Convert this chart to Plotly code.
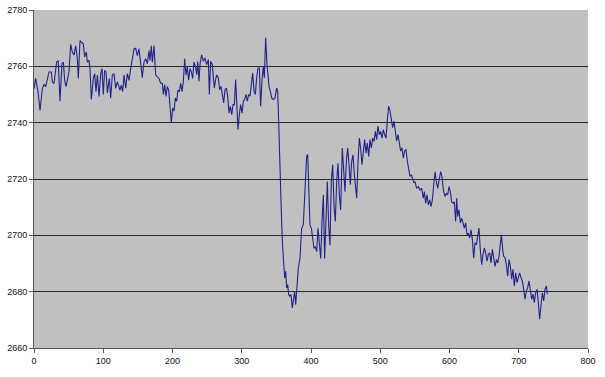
import plotly.graph_objects as go

# Values (x, y pairs)
x_vals = [
    0, 2.4, 5.8, 8.7, 12, 14.4, 16.8, 19.3, 21.7, 25, 26.5, 28.9, 32.7, 35, 37.5, 40.4, 42.4, 44.3, 46.2, 48.1,
    50.5, 53, 55.4, 57.8, 60.2, 62.6, 64, 66.4, 68.8, 71.2, 73.2, 75.6, 77, 79.4, 80.9, 82.8, 85.7, 87.6, 89.5, 91.5,
    93.9, 96.3, 98.2, 100.1, 102, 104, 105.9, 108.8, 110.7, 113.1, 115.5, 117.9, 120.3, 122.7, 124.2, 126.1, 128, 130, 132.4, 134.8,
    137.2, 139.6, 142, 144.4, 146.8, 149.2, 151.6, 154, 156.4, 158.8, 161.3, 163.7, 166.1, 167.5, 169.4, 170.9, 173.3, 175.7, 178.1, 180.5,
    182.9, 185.3, 186.8, 188.7, 190.6, 192.5, 194.5, 196.4, 198.3, 200.2, 202.2, 204.1, 206, 207.9, 209.9, 211.8, 213.7, 215.6, 217.6, 219.5,
    221.4, 223.3, 225.3, 227.2, 229.1, 231, 233, 235, 236.4, 238.3, 239.7, 242.1, 244.5, 246.9, 249.3, 251.8, 253.2, 255.1, 257.5, 259,
    260.4, 262.3, 263.8, 266.2, 268.1, 270, 272, 273.9, 275.8, 277.8, 279.7, 281.6, 283.5, 285.5, 287.4, 289.3, 291.2, 292.7, 294.6, 296.5,
    298.4, 300.4, 302.3, 304.2, 306.2, 308.1, 310, 312, 313.9, 315.8, 317.7, 319.6, 321.5, 323.5, 325.4, 327.3, 329.3, 331.2, 332.6, 334.5,
    336.5, 337.9, 339.4, 341.3, 343.2, 345.6, 348, 350.4, 351.9, 353.3, 354.8, 356.2, 357.7, 359.2, 360.5, 362, 363.4, 364.9, 366.3, 367.8,
    369.2, 371.1, 373, 374.5, 376.4, 377.9, 379.3, 381.7, 384.1, 386.5, 388.9, 391.3, 393.7, 395.2, 397.1, 398.5, 400.5, 402.4, 404.3, 406.2,
    408.2, 410.1, 412, 414, 415.9, 417.8, 419.7, 421.6, 423.6, 425.5, 427.4, 429.3, 431.3, 433.2, 435.1, 437.1, 439, 440.9, 442.8, 445.2,
    447.2, 449.1, 451, 453, 454.9, 456.8, 458.7, 460.6, 462.6, 464.5, 466, 467.9, 469.8, 471.7, 473.6, 475.6, 477.5, 479.4, 481.3, 483.3,
    485.2, 487.1, 489, 491, 492.9, 494.8, 496.7, 498.7, 500.6, 502.5, 504.4, 506.4, 508.3, 510.2, 512.1, 514.1, 516, 517.9, 519.8, 521.8,
    523.7, 525.6, 527.6, 529.5, 531.4, 533.3, 535.3, 537.2, 539.1, 541, 543, 544.9, 546.8, 548.7, 550.2, 552.6, 555, 557.4, 559.8, 562.2,
    563.7, 565.6, 567.5, 569.5, 571.4, 573.3, 575.2, 577.2, 579.1, 581, 583, 584.9, 587.3, 589.2, 591.1, 593.5, 595.4, 597.4, 599.3, 601.2,
    603.1, 605.1, 607, 608.9, 610.4, 611.8, 613.7, 615.7, 617.6, 619.5, 621.4, 623.4, 625.3, 627.2, 629.1, 631.1, 633, 634.9, 636.8, 638.8,
    640.7, 642.6, 644.5, 646.5, 648.4, 650.3, 652.2, 654.2, 656.1, 658, 660, 661.9, 663.8, 665.7, 667.7, 669.6, 671.5, 673.4, 674.9, 676.8,
    678.2, 680.2, 682.1, 684, 686, 687.9, 689.8, 691.7, 693.6, 695.6, 697.5, 699.4, 701.3, 703.3, 705.2, 707.1, 709, 711, 712.9, 714.8,
    716.7, 718.7, 720.6, 722.5, 724.4, 726.4, 728.3, 730.2, 732.1, 734.1, 736, 737.9, 739.9, 741.3,
]
y_vals = [
    2752, 2755.7, 2751, 2744.3, 2752, 2753.6, 2752.8, 2755, 2758, 2758, 2754.5, 2753.9, 2761.5, 2762, 2747.6, 2761, 2761.5, 2755, 2752.8, 2755,
    2758, 2767.8, 2765, 2764, 2767.3, 2762.7, 2755.7, 2769.1, 2768.5, 2767.9, 2763.3, 2765.1, 2761.5, 2762.1, 2759.2, 2748.2, 2755.7, 2757.4, 2751, 2756.9,
    2749.3, 2757.4, 2759.2, 2750, 2758.6, 2758, 2750.6, 2755.7, 2748.7, 2756.9, 2757.4, 2752.2, 2754.5, 2752.8, 2751.6, 2753.3, 2751, 2756.9, 2752.2, 2757.4,
    2755, 2759.2, 2762.1, 2766.2, 2766.4, 2763.8, 2766.2, 2760.3, 2756, 2761.5, 2762.7, 2760.9, 2765.6, 2762.1, 2767.3, 2761.5, 2767.3, 2756.9, 2756.3, 2755.7,
    2754, 2754, 2750, 2753.5, 2749.3, 2752.8, 2751.6, 2747, 2740, 2745.2, 2744.1, 2748.7, 2747.6, 2751.6, 2751, 2754, 2751, 2754.5, 2762.7, 2756.9,
    2759.8, 2755.1, 2759.2, 2758, 2755.7, 2761.5, 2760, 2757, 2761.7, 2754.7, 2760.6, 2764.1, 2761.8, 2763, 2760.6, 2762.4, 2750, 2761.8, 2760.6, 2755.9,
    2752.3, 2755.3, 2757, 2755.9, 2751.7, 2752.9, 2750, 2747, 2751.7, 2752.3, 2749.4, 2743.4, 2745.8, 2742.8, 2746.4, 2746.4, 2755.3, 2747.6, 2737.6, 2742.8,
    2746.4, 2743.4, 2747.6, 2748.2, 2750, 2747.6, 2750, 2749.4, 2753, 2757.7, 2751.1, 2750, 2755.9, 2759.4, 2759.4, 2745.8, 2755.3, 2760, 2755.9, 2770.1,
    2760.6, 2755.9, 2752.9, 2751.1, 2748.8, 2748.2, 2748.8, 2752.3, 2751.1, 2740.5, 2725.1, 2713.3, 2703.8, 2695.5, 2688.4, 2684.9, 2687.2, 2681.3, 2682.5, 2679,
    2678.4, 2679, 2674.2, 2677.8, 2680.1, 2675.4, 2681.3, 2688.4, 2691.8, 2702.5, 2703.7, 2718, 2728.1, 2728.7, 2716.8, 2703.7, 2702.5, 2697.7, 2695.4, 2696,
    2694.2, 2702.5, 2697.7, 2691.8, 2704.9, 2714.4, 2691.8, 2709.6, 2719.1, 2703.7, 2696.5, 2719.1, 2725.1, 2710.8, 2704.9, 2719.1, 2725.6, 2714.4, 2709, 2731,
    2722.7, 2715.5, 2726.2, 2731, 2725.1, 2718, 2726.2, 2728.6, 2721.5, 2716.8, 2713.2, 2726.2, 2734.5, 2731, 2725.1, 2729.8, 2734, 2729.2, 2732.8, 2728,
    2734, 2731, 2734.5, 2733.3, 2736.9, 2734, 2738.8, 2735.7, 2736.9, 2734.5, 2737.5, 2735.7, 2734.5, 2740.6, 2745.9, 2744.2, 2740, 2738.2, 2740.6, 2735.8,
    2733.5, 2735.8, 2732.3, 2729.9, 2731.1, 2727.5, 2729.9, 2730.5, 2726.3, 2723.3, 2720.9, 2721.5, 2719.8, 2718.6, 2719.1, 2716.7, 2717.3, 2716.1, 2716.7, 2713.2,
    2715.5, 2711.4, 2714.4, 2710.8, 2712.6, 2710.2, 2712.6, 2718.5, 2722.6, 2719.1, 2716.7, 2719.6, 2722.6, 2720.8, 2716.1, 2713.8, 2714.9, 2714.4, 2717.3, 2715.5,
    2711.9, 2711.4, 2711.9, 2704.9, 2713.2, 2706.7, 2709.1, 2704.4, 2706.1, 2704.4, 2702.6, 2704.4, 2700.2, 2700.8, 2699.1, 2702, 2698.5, 2692, 2697.3, 2696.7,
    2699.6, 2702.6, 2694.9, 2689.6, 2693.2, 2695.5, 2693.8, 2690.8, 2693.2, 2693.8, 2690.2, 2695, 2692, 2689, 2691.4, 2690.2, 2692.6, 2696.7, 2700.2, 2694.9,
    2692.6, 2692, 2689.6, 2685.5, 2691.4, 2689, 2684.4, 2687.9, 2682, 2686.7, 2683.2, 2685, 2686.7, 2685, 2683.8, 2680.8, 2677.3, 2680.2, 2681.4, 2683.8,
    2680.2, 2677.3, 2679.1, 2676.1, 2679.6, 2680.8, 2676.1, 2670.2, 2674.9, 2679.6, 2676.7, 2680.8, 2682, 2679.1,
]

x_ticks = [0, 100, 200, 300, 400, 500, 600, 700, 800]
y_ticks = [2660, 2680, 2700, 2720, 2740, 2760, 2780]

fig = go.Figure()
fig.add_trace(go.Scatter(
    x=x_vals, y=y_vals, mode="lines",
    line=dict(color="#22228c", width=1.1),
    showlegend=False, hoverinfo="skip",
))

font = dict(family="Liberation Sans, Arial, sans-serif", size=9, color="#111111")

fig.update_layout(
    width=605, height=377,
    margin=dict(l=34, r=17, t=10, b=29, autoexpand=False),
    paper_bgcolor="white",
    plot_bgcolor="#c0c0c0",
    font=font,
    xaxis=dict(
        range=[0, 800], tickvals=x_ticks, ticktext=[str(v) for v in x_ticks],
        showgrid=False, zeroline=False, automargin=False,
        showline=True, linecolor="#555555", linewidth=1,
        ticks="outside", ticklen=4, tickcolor="#555555",
        tickfont=font,
    ),
    yaxis=dict(
        range=[2660, 2780], tickvals=y_ticks, ticktext=[str(v) for v in y_ticks],
        showgrid=True, gridcolor="#2a2a2a", gridwidth=1,
        zeroline=False, automargin=False,
        showline=True, linecolor="#555555", linewidth=1,
        ticks="outside", ticklen=4, tickcolor="#555555",
        tickfont=font,
    ),
)

fig.write_html("out.html")
